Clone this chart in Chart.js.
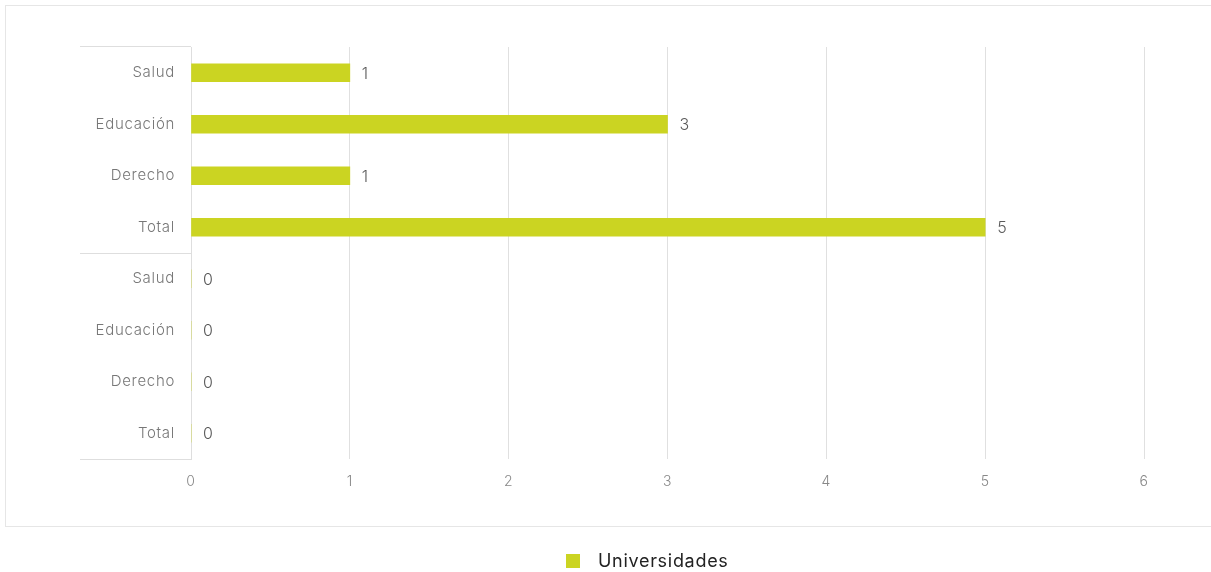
<!DOCTYPE html>
<html><head><meta charset="utf-8">
<script src="https://cdn.jsdelivr.net/npm/chart.js@4/dist/chart.umd.min.js"></script>
<style>html,body{margin:0;padding:0;background:#fff}#wrap{width:1211px;height:572px;position:relative}</style>
</head><body><div id="wrap"><canvas id="c" width="1211" height="572"></canvas></div>
<script>
const categories = ["Salud","Educación","Derecho","Total","Salud","Educación","Derecho","Total"];
const seriesName = "Universidades";
const universidades = [1,3,1,5,0,0,0,0];
const groupBreaks = [4];
const xTicks = [0,1,2,3,4,5,6];

const BAR_COLOR = '#cbd422';
const FONT = 'Inter, "Open Sans", sans-serif';

const extras = {
  id:'extras',
  beforeDraw(chart){
    const ctx = chart.ctx;
    ctx.letterSpacing = '0.7px';
    ctx.save();
    ctx.strokeStyle = '#e6e6e6'; ctx.lineWidth = 1;
    ctx.strokeRect(5.5,5.5,1210,521);
    ctx.restore();
  },
  afterDraw(chart){
    const ctx = chart.ctx, ca = chart.chartArea, y = chart.scales.y;
    ctx.save();
    ctx.strokeStyle = '#dedede'; ctx.lineWidth = 1;
    const ys = [ca.top - 1, ca.bottom];
    groupBreaks.forEach(b => ys.push((y.getPixelForValue(b-1)+y.getPixelForValue(b))/2));
    ys.forEach(v => { const yy = Math.round(v)+0.5; ctx.beginPath(); ctx.moveTo(80, yy); ctx.lineTo(ca.left, yy); ctx.stroke(); });
    ctx.fillStyle = '#5a5a5a'; ctx.font = '300 16px ' + FONT; ctx.textBaseline = 'middle'; ctx.textAlign = 'left';
    const meta = chart.getDatasetMeta(0);
    meta.data.forEach((bar, i) => {
      ctx.fillText(String(universidades[i]), bar.x + 12, bar.y + 1);
    });
    const ds = chart.data.datasets[0];
    ctx.fillStyle = ds.backgroundColor;
    ctx.fillRect(566, 554, 14, 14);
    ctx.fillStyle = '#222'; ctx.font = '18px ' + FONT;
    ctx.fillText(ds.label, 598, 562);
    ctx.restore();
  }
};

new Chart(document.getElementById('c'), {
  type:'bar',
  data:{ labels: categories, datasets:[{ label: seriesName, data: universidades, backgroundColor: BAR_COLOR, barThickness: 18 }]},
  options:{
    indexAxis:'y', responsive:false, animation:false,
    layout:{ padding:{ top:47, right:67, bottom:0, left:0 } },
    plugins:{ legend:{display:false}, tooltip:{enabled:false} },
    scales:{
      x:{ min:0, max:6, ticks:{ stepSize:1, color:'#888', font:{family:FONT, size:14, weight:'300'}, padding:14, callback:(v)=>xTicks.includes(v)?String(v):'' },
          grid:{ color:'#e0e0e0', drawTicks:false }, border:{display:false},
          afterFit(s){ s.height = 113; } },
      y:{ ticks:{ color:'#777', font:{family:FONT, size:15, weight:'300'}, padding:16 },
          grid:{ display:false, drawTicks:false }, border:{ display:true, color:'#dedede' },
          afterFit(s){ s.width = 191; } }
    }
  },
  plugins:[extras]
});
</script></body></html>
